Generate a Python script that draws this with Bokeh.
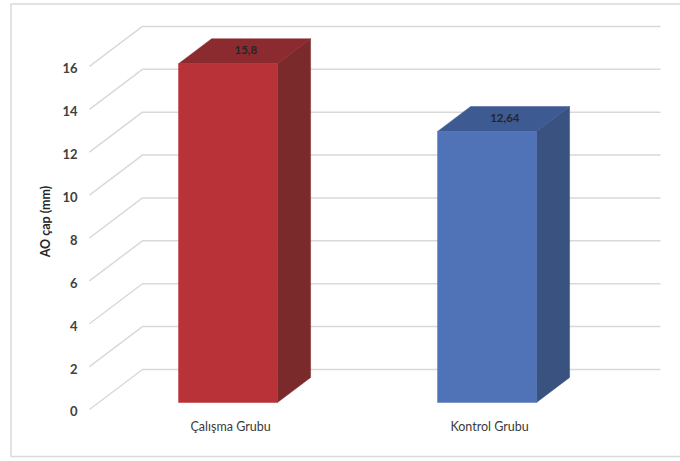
from bokeh.plotting import figure
from bokeh.models import Range1d
from bokeh.core.properties import value
from bokeh.embed import file_html
from bokeh.resources import INLINE
import math

# ---- data ----
categories = ["Çalışma Grubu", "Kontrol Grubu"]
values = [15.8, 12.64]
value_labels = ["15,8", "12,64"]
y_ticks = [0, 2, 4, 6, 8, 10, 12, 14, 16]
y_title = "AO çap (mm)"

front_colors = ["#B83237", "#5073B8"]
side_colors = ["#7B2A2C", "#3A5280"]
top_colors = ["#8C2B2F", "#3E5A93"]

# ---- geometry (data units) ----
BAR_W = 0.382
DX, DY = 0.2046, 1.866          # full floor depth offset
Z_FRONT, Z_BACK = 0.175, 0.8     # bar depth inside floor
SX, SY = (Z_BACK - Z_FRONT) * DX, (Z_BACK - Z_FRONT) * DY
X_FLOOR_LEFT = -0.535
X_WALL_RIGHT = 1.670
FONT = "Lato"

p = figure(width=680, height=461, output_backend="svg", toolbar_location=None,
           x_range=Range1d(-0.8784, 1.7471), y_range=Range1d(-2.752, 18.75),
           x_axis_type=None, y_axis_type=None, min_border=0,
           outline_line_color=None)
p.grid.visible = False
p.background_fill_color = "white"
p.border_fill_color = "white"

# outer chart border
p.quad(left=[-0.838], right=[1.80], bottom=[-2.52], top=[18.59],
       fill_color=None, line_color="#D9D9D9", line_width=1.5)

# gridlines: floor diagonals + back wall
xs, ys = [], []
for t in y_ticks:
    yf = t - Z_FRONT * DY
    yb = t + (1 - Z_FRONT) * DY
    xs.append([X_FLOOR_LEFT, X_FLOOR_LEFT + DX, X_WALL_RIGHT])
    ys.append([yf, yb, yb])
p.multi_line(xs=xs, ys=ys, line_color="#D9D9D9", line_width=1.5)

# bars
fx, fy, sxs, sys_, txs, tys = [], [], [], [], [], []
for i, v in enumerate(values):
    l, r = i - BAR_W / 2, i + BAR_W / 2
    fx.append([l, r, r, l]); fy.append([0, 0, v, v])
    sxs.append([r, r + SX, r + SX, r]); sys_.append([0, SY, v + SY, v])
    txs.append([l, r, r + SX, l + SX]); tys.append([v, v, v + SY, v + SY])

p.patches(xs=sxs, ys=sys_, fill_color=side_colors, line_color=side_colors, line_width=0.5)
p.patches(xs=txs, ys=tys, fill_color=top_colors, line_color=top_colors, line_width=0.5)
p.patches(xs=fx, ys=fy, fill_color=front_colors, line_color=front_colors, line_width=0.5)

# data labels on top faces
p.text(x=[i + SX / 2 + 0.005 for i in range(len(values))],
       y=[v + SY / 2 + 0.05 for v in values], text=value_labels,
       text_font=value(FONT), text_font_size="11.5px",
       text_font_style="bold", text_color="#262626",
       text_align="center", text_baseline="middle")

# category labels
p.text(x=[i + 0.01 for i in range(len(categories))], y=[-1.12] * len(categories),
       text=categories, text_font=value(FONT), text_font_size="12.5px",
       text_color="#3A3A3A", text_align="center", text_baseline="middle")

# y tick labels
p.text(x=[-0.581] * len(y_ticks), y=[t - Z_FRONT * DY - 0.09 for t in y_ticks],
       text=[str(t) for t in y_ticks], text_font=value(FONT), text_font_size="13px",
       text_font_style="bold", text_color="#404040",
       text_align="right", text_baseline="middle")

# y axis title
p.text(x=[-0.7047], y=[8.44], text=[y_title], text_font=value(FONT),
       text_font_size="12.5px", text_font_style="bold", text_color="#262626",
       text_align="center", text_baseline="middle", angle=math.pi / 2)

open("out.html", "w").write(file_html(p, INLINE))
